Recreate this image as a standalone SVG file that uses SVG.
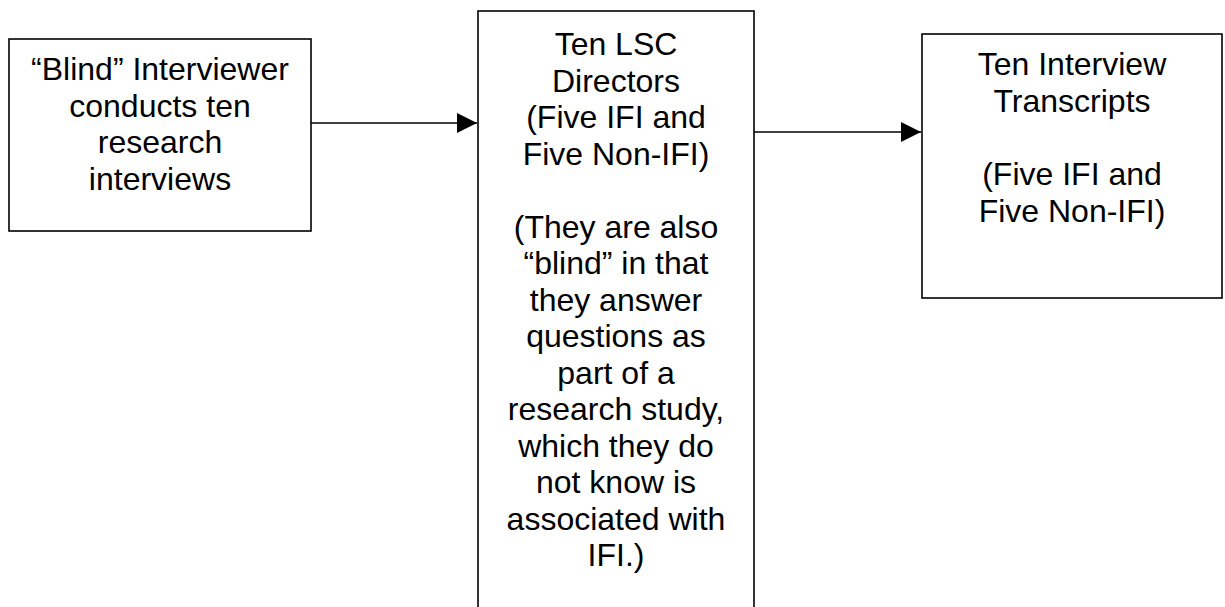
<svg xmlns="http://www.w3.org/2000/svg" width="1225" height="607" viewBox="0 0 1225 607">
<style>
.box{fill:#fff;stroke:#000;stroke-width:1.6}
.t{font-family:"Liberation Sans",Arial,sans-serif;font-size:32px;fill:#000;text-anchor:middle}
.c{stroke:#000;stroke-width:1.6;fill:none}
</style>
<defs>
<marker id="ah" markerWidth="20" markerHeight="20" refX="20" refY="10" orient="auto" markerUnits="userSpaceOnUse">
<path d="M0,0 L20,10 L0,20 Z" fill="#000"/>
</marker>
</defs>
<rect width="1225" height="607" fill="#fff"/>
<g id="node-interviewer">
<rect class="box" x="9" y="39" width="302" height="192"/>
<text class="t" x="160" y="80">“Blind” Interviewer</text>
<text class="t" x="160" y="116.7">conducts ten</text>
<text class="t" x="160" y="153.4">research</text>
<text class="t" x="160" y="190">interviews</text>
</g>
<g id="node-directors">
<rect class="box" x="478" y="11" width="276" height="620"/>
<text class="t" x="616" y="55">Ten LSC</text>
<text class="t" x="616" y="91.5">Directors</text>
<text class="t" x="616" y="128">(Five IFI and</text>
<text class="t" x="616" y="164.5">Five Non-IFI)</text>
<text class="t" x="616" y="237.5">(They are also</text>
<text class="t" x="616" y="274">“blind” in that</text>
<text class="t" x="616" y="310.5">they answer</text>
<text class="t" x="616" y="347">questions as</text>
<text class="t" x="616" y="383.5">part of a</text>
<text class="t" x="616" y="420">research study,</text>
<text class="t" x="616" y="456.5">which they do</text>
<text class="t" x="616" y="493">not know is</text>
<text class="t" x="616" y="529.5">associated with</text>
<text class="t" x="616" y="566">IFI.)</text>
</g>
<g id="node-transcripts">
<rect class="box" x="922" y="34" width="300" height="264"/>
<text class="t" x="1072" y="75">Ten Interview</text>
<text class="t" x="1072" y="111.7">Transcripts</text>
<text class="t" x="1072" y="185.1">(Five IFI and</text>
<text class="t" x="1072" y="221.8">Five Non-IFI)</text>
</g>
<g id="connectors">
<line class="c" x1="311" y1="123" x2="477" y2="123" marker-end="url(#ah)"/>
<line class="c" x1="754" y1="132" x2="921" y2="132" marker-end="url(#ah)"/>
</g>
</svg>
